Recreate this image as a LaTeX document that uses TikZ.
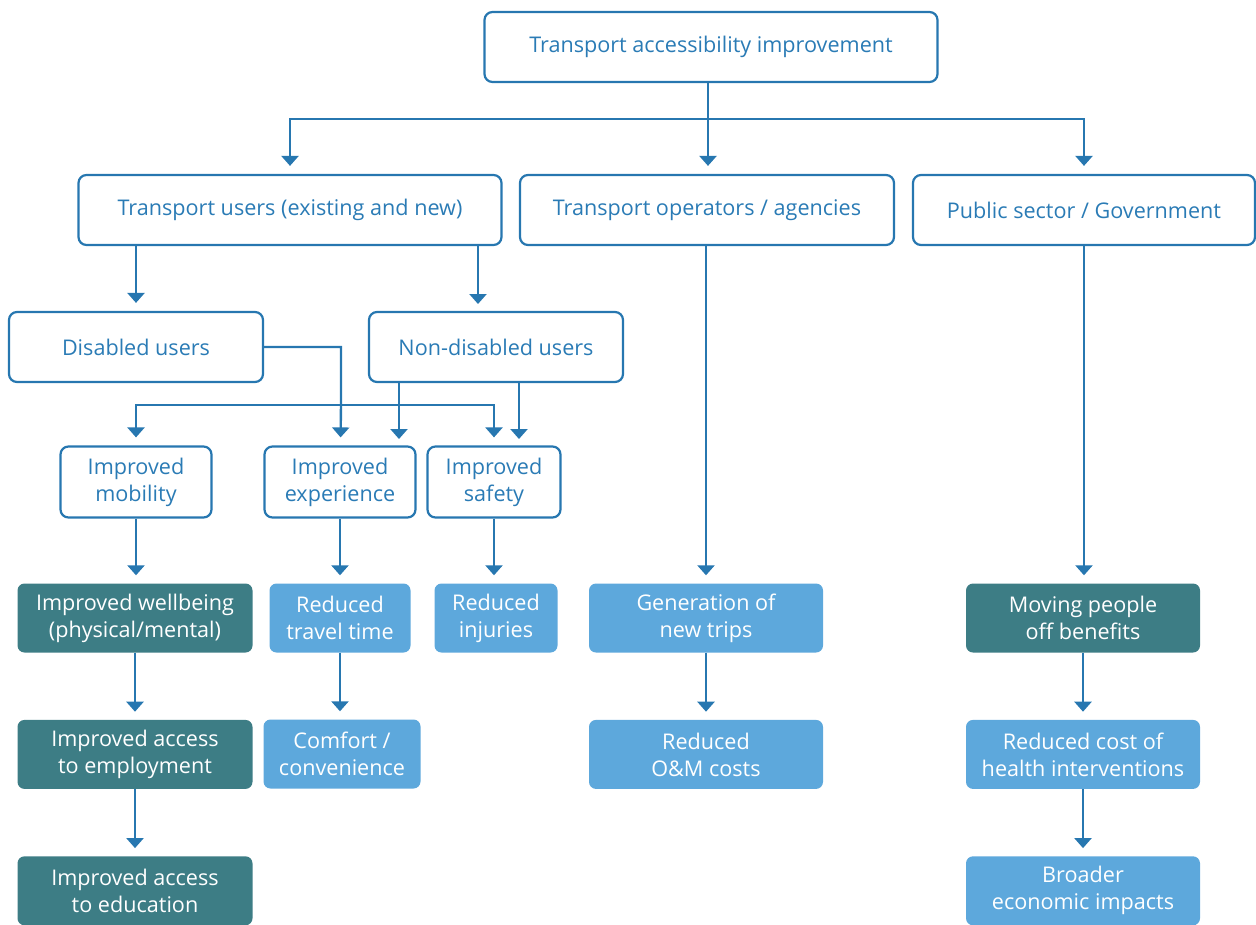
\documentclass[tikz,border=0pt]{standalone}
\usepackage{fontspec}
\setmainfont{Open Sans}
\usepackage{xcolor}
\usetikzlibrary{positioning,arrows.meta}

\definecolor{lineblue}{HTML}{2777B0}
\definecolor{textblue}{HTML}{2A7BB5}
\definecolor{darkteal}{HTML}{3D7D85}
\definecolor{lightblue}{HTML}{5DA8DC}

\tikzset{
  box/.style={draw=lineblue, line width=2.2pt, rounded corners=8pt, text=textblue,
    align=center, minimum height=70pt, font=\fontsize{21.6}{27}\selectfont},
  darkbox/.style={fill=darkteal, rounded corners=7pt, text=white, align=center,
    minimum height=69pt, font=\fontsize{21.6}{27}\selectfont},
  lightbox/.style={fill=lightblue, rounded corners=7pt, text=white, align=center,
    minimum height=69pt, font=\fontsize{21.6}{27}\selectfont},
  link/.style={draw=lineblue, line width=2.4pt, -{Triangle[width=17pt,length=10pt]}, shorten >=8pt},
  wire/.style={draw=lineblue, line width=2.4pt}
}

\begin{document}
\begin{tikzpicture}[x=1pt, y=-1pt]
		\useasboundingbox (0,0) rectangle (1256,924);

		% top and stakeholders
		\node[box, minimum width=453pt] (top) at (711,47) {Transport accessibility improvement};
		\node[box, minimum width=423pt] (users) at (290,210) {Transport users (existing and new)};
		\node[box, minimum width=374pt] (ops) at (707,210) {Transport operators / agencies};
		\node[box, minimum width=342pt] (pub) at (1084,210) {Public sector / Government};

		% user groups
		\node[box, minimum width=254pt] (dis) at (136,347) {Disabled users};
		\node[box, minimum width=254pt] (nondis) at (496,347) {Non-disabled users};

		% first outcomes
		\node[box, minimum width=151pt, minimum height=71pt] (mob) at (136,482) {Improved\\mobility};
		\node[box, minimum width=151pt, minimum height=71pt] (exp) at (340,482) {Improved\\experience};
		\node[box, minimum width=133pt, minimum height=71pt] (saf) at (494,482) {Improved\\safety};

		% benefits
		\node[darkbox, minimum width=235pt] (wellb) at (135,618) {Improved wellbeing\\(physical/mental)};
		\node[darkbox, minimum width=235pt] (employ) [below=67pt of wellb] {Improved access\\to employment};
		\node[darkbox, minimum width=235pt] (educ) [below=67pt of employ] {Improved access\\to education};
		\node[lightbox, minimum width=141pt] (travel) at (340,618) {Reduced\\travel time};
		\node[lightbox, minimum width=157pt] (comfort) at (342,754) {Comfort /\\convenience};
		\node[lightbox, minimum width=123pt] (inj) at (496,618) {Reduced\\injuries};
		\node[lightbox, minimum width=234pt] (gen) at (706,618) {Generation of\\new trips};
		\node[lightbox, minimum width=234pt] (om) [below=67pt of gen] {Reduced\\O\&M costs};
		\node[darkbox, minimum width=234pt] (benef) at (1083,618) {Moving people\\off benefits};
		\node[lightbox, minimum width=234pt] (health) [below=67pt of benef] {Reduced cost of\\health interventions};
		\node[lightbox, minimum width=234pt] (broader) [below=67pt of health] {Broader\\economic impacts};

		\coordinate (fork) at (708,119);
		\coordinate (split) at (341,405);

		% top level
		\path[wire] (top.south -| fork) -- (fork);
		\path[link] (fork) -| (users);
		\path[link] (fork) -- (fork |- ops.north);
		\path[link] (fork) -| (pub);
		\path[link] (users.south -| dis) -- (dis);
		\path[link] (users.south -| 478,0) -- (478,312);

		% user groups to outcomes
		\path[link] (dis.east) -| (split) -- (exp);
		\path[link] (split) -| (mob);
		\path[link] (split) -| (saf);
		\path[link] (nondis.south -| 399,0) -- (399,447);
		\path[link] (nondis.south -| 519,0) -- (519,447);

		% chains
		\path[link] (mob) -- (mob |- wellb.north);
		\path[link] (exp) -- (travel);
		\path[link] (saf) -- (saf |- inj.north);
		\path[link] (travel) -- (travel |- comfort.north);
		\path[link] (ops.south -| gen) -- (gen);
		\path[link] (pub) -- (pub |- benef.north);
		\path[link] (wellb) -- (employ);
		\path[link] (employ) -- (educ);
		\path[link] (gen) -- (om);
		\path[link] (benef) -- (health);
		\path[link] (health) -- (broader);
	\end{tikzpicture}
\end{document}
